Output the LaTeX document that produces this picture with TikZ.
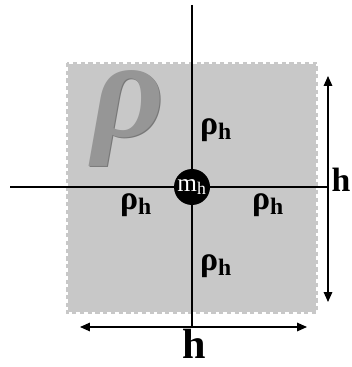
\documentclass[tikz,border=0pt]{standalone}
\usepackage{fontspec}
\setmainfont{Liberation Serif}
\usetikzlibrary{arrows.meta,positioning}

\definecolor{cellgray}{RGB}{200,200,200}
\definecolor{rhogray}{RGB}{150,150,150}
\definecolor{rhoedge}{RGB}{120,120,120}

\tikzset{
  axis/.style={line width=1.4pt},
  dim/.style={line width=1pt, {Triangle[length=7pt,width=6pt]}-{Triangle[length=7pt,width=6pt]}},
  lab/.style={font=\bfseries\fontsize{24}{24}\selectfont, inner sep=0pt},
  hlab/.style={font=\bfseries\fontsize{30}{30}\selectfont, inner sep=0pt}
}

\begin{document}
\begin{tikzpicture}[x=0.025cm, y=-0.025cm]
        \useasboundingbox (0,0) rectangle (351,367);

        % cell
        \fill[cellgray] (68,64) rectangle (316,312);
        \draw[cellgray, line width=2pt, dash pattern=on 3pt off 2.5pt] (67,63) rectangle (317,313);
        \node[inner sep=0pt, text=rhoedge] at (129.5,119) {\fontsize{100}{100}\selectfont\textbf{\textit{ρ}}};
        \node[inner sep=0pt, text=rhogray] (bigrho) at (129,118) {\fontsize{100}{100}\selectfont\textbf{\textit{ρ}}};

        % cross
        \coordinate (top) at (192,5);
        \coordinate (bot) at (192,327);
        \coordinate (left) at (10,187);
        \coordinate (right) at (328,187);
        \draw[axis] (top) -- (bot);
        \draw[axis] (left) -- (right);

        \node[circle, fill=black, minimum size=36*0.025cm, inner sep=0pt, text=white,
              font=\fontsize{18}{18}\selectfont] (m) at (192,187) {m\textsubscript{h}};

        % densities
        \node[lab] (rt) at (216,130) {ρ\textsubscript{h}};
        \node[lab] (rl) at (136,205) {ρ\textsubscript{h}};
        \node[lab] (rr) at (268,205) {ρ\textsubscript{h}};
        \node[lab] (rb) at (216,266) {ρ\textsubscript{h}};

        % sizes
        \coordinate (vt) at (328,76);
        \coordinate (vb) at (328,302);
        \coordinate (hl) at (80,327);
        \coordinate (hr) at (307,327);
        \draw[dim] (vt) -- (vb);
        \draw[dim] (hl) -- (hr);
        \node[hlab, font=\bfseries\fontsize{24}{24}\selectfont] (hside) at (341,180) {h};
        \node[hlab] (hbot) at (194,344) {h};
      \end{tikzpicture}
\end{document}
